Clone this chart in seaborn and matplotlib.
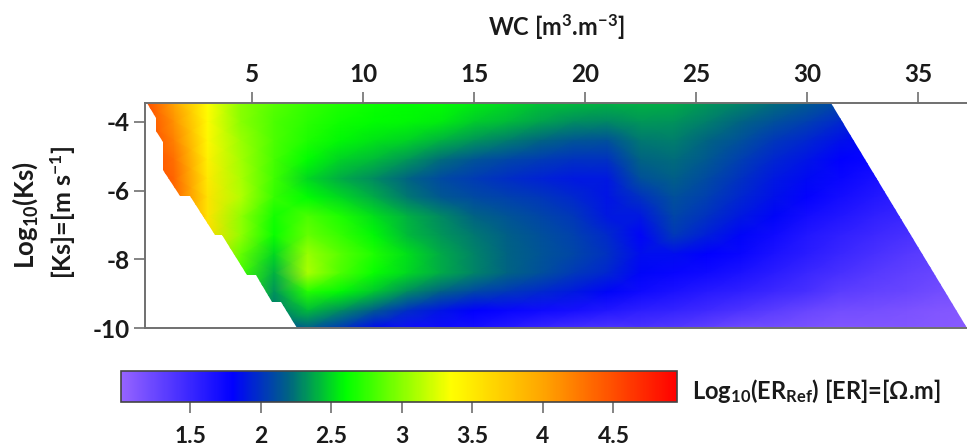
import numpy as np
import matplotlib
matplotlib.use("Agg")
import matplotlib.pyplot as plt
import seaborn as sns
from matplotlib.colors import LinearSegmentedColormap
from matplotlib.path import Path

wc_nodes = np.arange(26) * 1.5
ks_nodes = -3.45 - 0.55 * np.arange(13)

er = np.array([
 [4.6,4.0,3.35,3.0,2.85,2.75,2.68,2.63,2.6,2.6,2.55,2.5,2.44,2.42,2.4,2.4,2.38,2.33,2.28,2.22,2.16,2.08,2.0,1.9,1.8,1.7],
 [4.6,4.1,3.38,3.0,2.82,2.72,2.64,2.6,2.58,2.55,2.47,2.42,2.36,2.31,2.29,2.33,2.32,2.27,2.2,2.12,2.05,1.96,1.86,1.8,1.7,1.6],
 [4.6,4.2,3.4,3.05,2.82,2.68,2.58,2.53,2.48,2.4,2.32,2.26,2.2,2.14,2.12,2.25,2.27,2.2,2.12,2.02,1.95,1.87,1.8,1.72,1.65,1.55],
 [4.6,4.3,3.45,3.08,2.8,2.6,2.48,2.42,2.33,2.22,2.14,2.08,2.04,2.0,2.0,2.2,2.22,2.15,2.05,1.95,1.88,1.8,1.75,1.68,1.6,1.5],
 [4.6,4.35,3.5,3.1,2.78,2.5,2.38,2.3,2.2,2.1,2.04,1.98,1.94,1.9,1.9,2.12,2.18,2.1,2.0,1.9,1.84,1.75,1.68,1.6,1.55,1.45],
 [4.6,4.35,3.55,3.12,2.75,2.6,2.5,2.38,2.25,2.15,2.1,2.06,2.02,1.96,1.88,2.0,2.12,2.05,1.95,1.87,1.78,1.7,1.62,1.55,1.5,1.42],
 [4.6,4.35,3.55,3.02,2.65,2.82,2.68,2.52,2.4,2.3,2.2,2.14,2.08,2.02,1.9,1.9,2.08,2.0,1.9,1.82,1.7,1.63,1.55,1.5,1.45,1.4],
 [4.6,4.35,3.6,3.02,2.62,2.9,2.75,2.58,2.42,2.33,2.25,2.18,2.12,2.06,1.97,1.82,2.03,1.92,1.82,1.72,1.62,1.55,1.48,1.42,1.38,1.33],
 [4.6,4.35,3.6,2.9,2.5,3.05,2.85,2.68,2.52,2.38,2.28,2.2,2.14,2.08,2.0,1.85,1.85,1.8,1.75,1.66,1.58,1.5,1.42,1.35,1.3,1.26],
 [4.6,4.35,3.6,2.8,2.4,3.1,2.82,2.62,2.5,2.38,2.28,2.2,2.12,2.03,1.95,1.82,1.76,1.72,1.66,1.58,1.5,1.42,1.35,1.3,1.25,1.2],
 [4.6,4.35,3.6,2.75,2.32,2.7,2.58,2.45,2.3,2.18,2.08,2.02,1.96,1.9,1.82,1.72,1.66,1.6,1.55,1.48,1.42,1.32,1.28,1.25,1.2,1.16],
 [4.6,4.35,3.6,2.7,2.25,2.42,2.3,2.15,1.98,1.88,1.8,1.76,1.72,1.68,1.62,1.56,1.52,1.47,1.4,1.32,1.25,1.2,1.18,1.15,1.12,1.1],
 [4.6,4.35,3.6,2.7,2.2,2.15,2.0,1.82,1.72,1.72,1.68,1.6,1.5,1.42,1.38,1.4,1.35,1.28,1.2,1.18,1.15,1.12,1.12,1.12,1.1,1.08],
])

boundary_wc = [0.27,0.68,0.68,0.99,0.99,1.76,2.21,3.33,3.65,4.77,5.18,5.90,6.31,7.03,37.2,31.08]
boundary_ks = [-3.45,-3.88,-4.26,-4.58,-5.40,-6.15,-6.15,-7.28,-7.28,-8.45,-8.45,-9.23,-9.23,-10,-10,-3.45]

wc_ticks = [5,10,15,20,25,30,35]
ks_ticks = [-4,-6,-8,-10]
cbar_ticks = [1.5,2,2.5,3,3.5,4,4.5]
cbar_labels = ["1.5","2","2.5","3","3.5","4","4.5"]

stops = [(1.01,(150/255,100/255,1)),(1.8,(0,0,1)),(2.2,(0,100/255,130/255)),
         (2.6,(0,1,0)),(3.35,(1,1,0)),(4.0,(1,165/255,0)),(4.95,(1,0,0))]
VMIN, VMAX = 1.01, 4.95
cmap = LinearSegmentedColormap.from_list("er",[((v-VMIN)/(VMAX-VMIN),c) for v,c in stops],N=512)

sns.set_theme(style="white")
plt.rcParams['font.family'] = ['Lato','DejaVu Sans']
plt.rcParams['mathtext.fontset'] = 'custom'
plt.rcParams['mathtext.bf'] = 'Lato:bold'
plt.rcParams['mathtext.rm'] = 'Lato:bold'
plt.rcParams['mathtext.default'] = 'bf'

W, H = 967, 445
fig = plt.figure(figsize=(W/100, H/100), dpi=100)
def rect(l, t, r, b):
    return [l/W, 1-b/H, (r-l)/W, (b-t)/H]
ax = fig.add_axes(rect(145,103,967,328))
cax = fig.add_axes(rect(121,371,677,402))

sns.heatmap(er, ax=ax, cmap=cmap, vmin=VMIN, vmax=VMAX, shading='gouraud',
            cbar=True, cbar_ax=cax, cbar_kws={'orientation':'horizontal'},
            xticklabels=False, yticklabels=False)

to_i = lambda w: (np.asarray(w,float)-wc_nodes[0])/(wc_nodes[1]-wc_nodes[0])
to_j = lambda k: (np.asarray(k,float)-ks_nodes[0])/(ks_nodes[1]-ks_nodes[0])

ax.set_xlim(to_i(0.18), to_i(37.2))
ax.set_ylim(to_j(-10), to_j(-3.45))
clip = Path(np.column_stack([to_i(boundary_wc), to_j(boundary_ks)]))
ax.collections[0].set_clip_path(clip, ax.transData)

GR = '#707070'
ax.xaxis.tick_top()
ax.set_xticks(to_i(wc_ticks)); ax.set_xticklabels([str(v) for v in wc_ticks])
ax.set_yticks(to_j(ks_ticks)); ax.set_yticklabels([str(v) for v in ks_ticks])
ax.tick_params(axis='both', length=8, width=1.2, color=GR, labelsize=17.5, pad=3,
               top=True, left=True, bottom=False, labelcolor='#1a1a1a')
ax.tick_params(axis='x', pad=4.5)
for lab in ax.get_xticklabels()+ax.get_yticklabels():
    lab.set_fontweight('bold')
for name, sp in ax.spines.items():
    sp.set_visible(name in ('left','top','bottom'))
    sp.set_color(GR); sp.set_linewidth(1.4)

cb = ax.collections[0].colorbar
cb.set_ticks(cbar_ticks); cb.set_ticklabels(cbar_labels)
cax.tick_params(axis='x', length=8, width=1.2, color=GR, labelsize=16.5, pad=9, labelcolor='#1a1a1a', bottom=True)
for lab in cax.get_xticklabels():
    lab.set_fontweight('bold')
cb.outline.set_visible(True); cb.outline.set_linewidth(1.2); cb.outline.set_edgecolor('#444444')

def T(px, py, s, **kw):
    fig.text(px/W, 1-py/H, s, ha='center', va='center', color='#1a1a1a', fontweight='bold', **kw)

T(556, 27, r"WC [m$^{3}$.m$^{-3}$]", fontsize=17)
T(25, 215, r"Log$_{10}$(Ks)", fontsize=18.5, rotation=90)
T(63, 212, r"[Ks]=[m s$^{-1}$]", fontsize=18, rotation=90)
T(816, 391, r"Log$_{10}$(ER$_{Ref}$) [ER]=[Ω.m]", fontsize=17)

fig.savefig("out.png", dpi=100)
